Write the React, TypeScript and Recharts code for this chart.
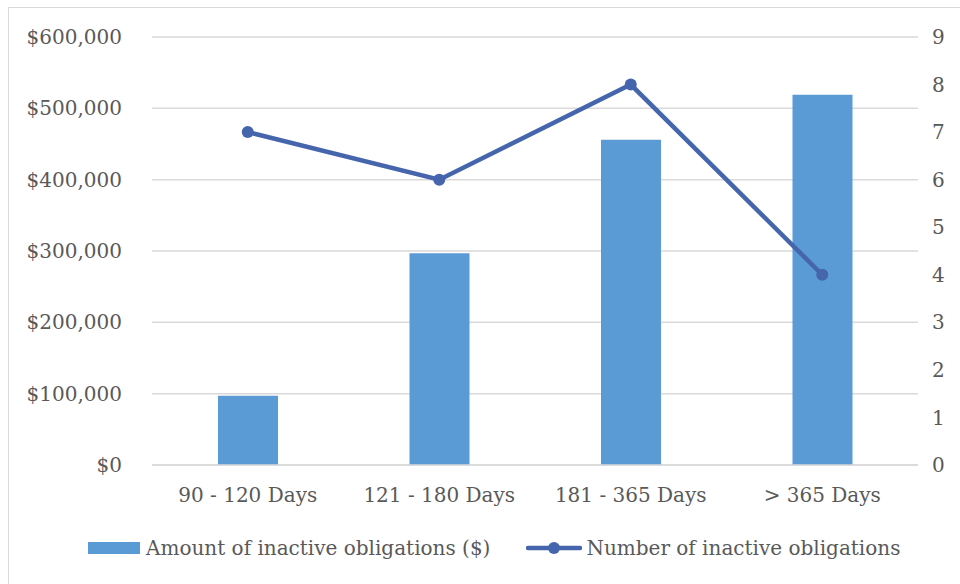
import { ComposedChart, Bar, Line, XAxis, YAxis, CartesianGrid, Legend } from "recharts";

const categories = ["90 - 120 Days", "121 - 180 Days", "181 - 365 Days", "> 365 Days"];
const amounts = [97000, 297000, 456000, 519000];
const counts = [7, 6, 8, 4];
const amountTicks = [0, 100000, 200000, 300000, 400000, 500000, 600000];
const countTicks = [0, 1, 2, 3, 4, 5, 6, 7, 8, 9];

const BAR_COLOR = "#5b9bd5";
const LINE_COLOR = "#4565ad";
const TEXT = "#595959";
const GRID = "#d9d9d9";
const FONT = "'DejaVu Serif', serif";
const FS = 20;

const data = categories.map((name, i) => ({
  name,
  amount: amounts[i],
  count: counts[i],
}));

const money = (v: number) => "$" + v.toLocaleString("en-US");

// legend drawn by hand to get the Excel look
function ChartLegend() {
  return (
    <div
      style={{
        height: 49,
        display: "flex",
        alignItems: "flex-start",
        fontFamily: FONT,
        fontSize: FS,
        lineHeight: "26px",
        color: TEXT,
        paddingLeft: 88,
        boxSizing: "border-box",
      }}
    >
      <span style={{ width: 52, height: 12, background: BAR_COLOR, marginRight: 6, marginTop: 7 }}></span>
      <span style={{ marginRight: 36 }}>Amount of inactive obligations ($)</span>
      <svg width={56} height={14} style={{ marginRight: 4, marginTop: 6 }}>
        <line x1={2} y1={7} x2={54} y2={7} stroke={LINE_COLOR} strokeWidth={4.5} strokeLinecap="round" />
        <circle cx={28} cy={7} r={6} fill={LINE_COLOR} />
      </svg>
      <span>Number of inactive obligations</span>
    </div>
  );
}

export default function App() {
  return (
    <div
      style={{
        position: "fixed",
        left: 0,
        top: 0,
        width: 960,
        height: 584,
        overflow: "hidden",
        background: "#fff",
      }}
    >
      <div
        style={{
          position: "absolute",
          left: 8,
          top: 7,
          width: 1000,
          height: 700,
          border: `1.5px solid ${GRID}`,
        }}
      ></div>
      <ComposedChart
        width={960}
        height={584}
        data={data}
        margin={{ top: 37, right: 0, bottom: 0, left: 0 }}
      >
        <CartesianGrid yAxisId="left" vertical={false} stroke={GRID} strokeWidth={1.5} />
        <XAxis
          dataKey="name"
          height={70}
          axisLine={{ stroke: GRID, strokeWidth: 1.5 }}
          tickLine={false}
          tickSize={0}
          tickMargin={23}
          tick={{ fill: TEXT, fontSize: FS, fontFamily: FONT }}
        />
        <YAxis
          yAxisId="left"
          orientation="left"
          width={152}
          domain={[0, 600000]}
          ticks={amountTicks}
          tickFormatter={money}
          axisLine={false}
          tickLine={false}
          tickSize={0}
          tickMargin={30}
          tick={{ fill: TEXT, fontSize: FS, fontFamily: FONT }}
        />
        <YAxis
          yAxisId="right"
          orientation="right"
          width={42}
          domain={[0, 9]}
          ticks={countTicks}
          axisLine={false}
          tickLine={false}
          tickSize={0}
          tickMargin={14}
          tick={{ fill: TEXT, fontSize: FS, fontFamily: FONT }}
        />
        <Bar
          yAxisId="left"
          dataKey="amount"
          name="Amount of inactive obligations ($)"
          fill={BAR_COLOR}
          barSize={60}
          isAnimationActive={false}
        />
        <Line
          yAxisId="right"
          dataKey="count"
          name="Number of inactive obligations"
          stroke={LINE_COLOR}
          strokeWidth={4.5}
          dot={{ r: 6, fill: LINE_COLOR, stroke: LINE_COLOR, strokeWidth: 0 }}
          isAnimationActive={false}
          type="linear"
        />
        <Legend verticalAlign="bottom" content={() => <ChartLegend />} />
      </ComposedChart>
    </div>
  );
}
